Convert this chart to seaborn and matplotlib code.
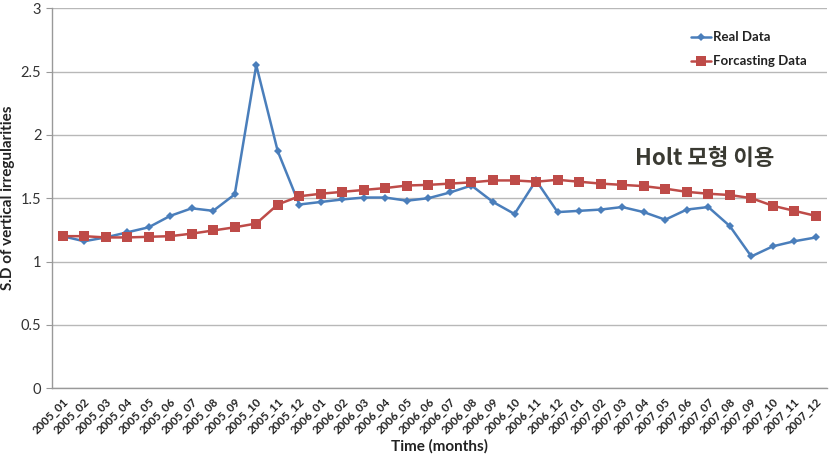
import numpy as np
import pandas as pd
import matplotlib
matplotlib.use("Agg")
import matplotlib.pyplot as plt
from matplotlib.ticker import FixedLocator
import seaborn as sns

# ==================== Data ====================
MONTHS = [f"{y}_{m:02d}" for y in (2005, 2006, 2007) for m in range(1, 13)]
REAL = [1.20, 1.16, 1.19, 1.23, 1.27, 1.36, 1.42, 1.40, 1.53, 2.55, 1.87, 1.45,
        1.47, 1.49, 1.505, 1.505, 1.48, 1.50, 1.545, 1.60, 1.47, 1.375, 1.64, 1.39,
        1.40, 1.41, 1.43, 1.39, 1.33, 1.41, 1.43, 1.28, 1.04, 1.12, 1.16, 1.19]
FORECAST = [1.20, 1.20, 1.19, 1.19, 1.195, 1.20, 1.22, 1.245, 1.27, 1.30, 1.45, 1.515,
            1.535, 1.55, 1.565, 1.58, 1.60, 1.605, 1.615, 1.625, 1.64, 1.64, 1.63, 1.645,
            1.63, 1.615, 1.605, 1.595, 1.575, 1.55, 1.535, 1.525, 1.50, 1.44, 1.40, 1.36]
Y_TICKS = [0, 0.5, 1, 1.5, 2, 2.5, 3]
Y_TICK_LABELS = ['0', '0.5', '1', '1.5', '2', '2.5', '3']

df = pd.DataFrame({
    'idx': list(range(len(MONTHS))) * 2,
    'value': REAL + FORECAST,
    'series': ['Real Data'] * len(REAL) + ['Forcasting Data'] * len(FORECAST),
})

sns.set_style("white")
plt.rcParams['font.family'] = ['Lato', 'Noto Sans CJK KR', 'DejaVu Sans']

fig = plt.figure(figsize=(8.35, 4.54), dpi=100)
ax = fig.add_axes([0.062, 0.145, 0.928, 0.837])

colors = {'Real Data': '#4A7EBB', 'Forcasting Data': '#BE4B48'}
sns.lineplot(data=df, x='idx', y='value', hue='series', style='series',
             markers={'Real Data': 'D', 'Forcasting Data': 's'},
             dashes=False, palette=colors, ax=ax, linewidth=1.8,
             markersize=5, markeredgewidth=0)
# Excel-like marker sizes
for line in ax.get_lines():
    if line.get_marker() == 's':
        line.set_markersize(6.5)
    elif line.get_marker() == 'D':
        line.set_markersize(4)

ax.set_xlim(-0.5, len(MONTHS) - 0.5)
ax.set_ylim(0, 3)
ax.set_yticks(Y_TICKS)
ax.set_yticklabels(Y_TICK_LABELS, fontsize=10.5, color='#333333')
ax.grid(True, axis='y', color='#b8b8b8', linewidth=1)
ax.set_axisbelow(True)

ax.set_xticks(range(len(MONTHS)))
ax.set_xticklabels(MONTHS, rotation=45, ha='right', rotation_mode='anchor',
                   fontsize=8.3, fontweight='bold', color='#222222')
ax.tick_params(axis='x', which='major', length=0, pad=6)
ax.xaxis.set_minor_locator(FixedLocator(np.arange(-0.5, len(MONTHS), 1)))
ax.tick_params(axis='x', which='minor', length=4, color='#999999', direction='out')
ax.tick_params(axis='y', length=4, color='#999999', direction='out', left=True)

for s in ['top', 'right']:
    ax.spines[s].set_visible(False)
for s in ['left', 'bottom']:
    ax.spines[s].set_color('#999999')
    ax.spines[s].set_linewidth(1)

ax.set_xlabel('Time (months)', fontsize=11, fontweight='bold', color='#222222', labelpad=2)
ax.set_ylabel('S.D of vertical irregularities', fontsize=11, fontweight='bold', color='#222222')

leg = ax.legend(loc='upper right', bbox_to_anchor=(0.99, 0.97), frameon=False,
                fontsize=9.5, handlelength=1.5, handletextpad=0.2, labelspacing=0.9)
for t in leg.get_texts():
    t.set_fontweight('bold')
    t.set_color('#222222')

ax.text(0.753, 0.605, 'Holt 모형 이용', transform=ax.transAxes, fontsize=16,
        fontweight='bold', color='#3a3a32', ha='left', va='center',
        family=['Noto Sans CJK KR', 'DejaVu Sans'])

fig.savefig('out.png', dpi=100)
